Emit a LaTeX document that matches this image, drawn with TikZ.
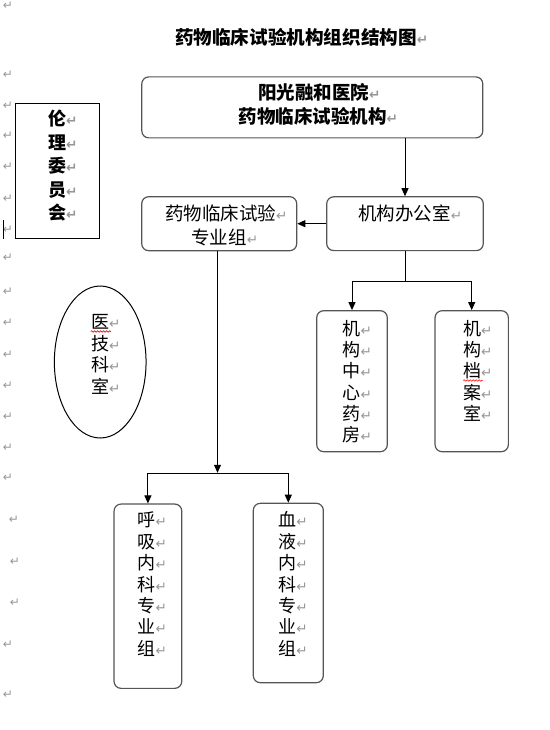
\documentclass[tikz,border=0pt]{standalone}
\usepackage{fontspec}
\newfontfamily\cjk{Noto Sans CJK SC}
\newfontfamily\dv{DejaVu Sans}
\usetikzlibrary{arrows.meta,shapes.geometric,decorations.pathmorphing,calc}
\definecolor{rtgray}{RGB}{150,150,150}
\definecolor{boxgray}{RGB}{85,85,85}
\newcommand\rt{\rlap{\dv\fontsize{13.5}{13.5}\selectfont\color{rtgray}↵}}
\newcommand\rtm{{\dv\fontsize{12}{12}\selectfont\color{rtgray}↵}}
\begin{document}
\begin{tikzpicture}[x=1pt,y=-1pt,
 rbox/.style={draw=boxgray,line width=1.2pt,rounded corners=7pt,inner sep=0,rectangle},
 arr/.style={line width=1pt,-{Triangle[length=8pt,width=7pt]}},
 ln/.style={line width=1pt},
 t/.style={inner sep=0,anchor=base,font=\cjk\fontsize{18.5}{18.5}\selectfont},
 tb/.style={inner sep=0,anchor=base,font=\cjk\bfseries\fontsize{18.5}{18.5}\selectfont},
 v/.style={inner sep=0,anchor=base,font=\cjk\fontsize{18}{18}\selectfont},
 vb/.style={inner sep=0,anchor=base,font=\cjk\bfseries\fontsize{18}{18}\selectfont},
 mk/.style={inner sep=0},
 wave/.style={red,line width=0.6pt,decorate,decoration={snake,amplitude=0.8pt,segment length=3pt}}]
\useasboundingbox (0,0) rectangle (549,730);

% title
\node[tb,font=\cjk\bfseries\fontsize{18.6}{18.6}\selectfont] (title) at (296,45) {药物临床试验机构组织结构图\rt};

% boxes
\node[rbox,minimum width=341pt,minimum height=61pt] (top) at (312.3,107.4) {};
\node[rbox,minimum width=156.6pt,minimum height=53.8pt] (office) at (405,223.7) {};
\node[rbox,minimum width=155pt,minimum height=54pt] (group) at (219.2,223.7) {};
\node[draw=black,line width=1pt,rectangle,minimum width=84.3pt,minimum height=135pt,inner sep=0] (lunli) at (57.2,170.8) {};
\node[draw=black,line width=1pt,ellipse,minimum width=91.7pt,minimum height=152pt,inner sep=0] (yiji) at (100.2,362) {};
\node[rbox,minimum width=70.6pt,minimum height=141pt] (zx) at (352,381.2) {};
\node[rbox,minimum width=73.3pt,minimum height=141pt] (da) at (471.7,381.2) {};
\node[rbox,minimum width=67.7pt,minimum height=184.3pt] (hx) at (147.9,596.2) {};
\node[rbox,minimum width=70pt,minimum height=179.4pt] (xy) at (288.3,593) {};

% box texts
\node[tb] (top1) at (313.5,99.7) {阳光融和医院\rt};
\node[tb] (top2) at (312.5,123.7) {药物临床试验机构\rt};
\node[t] (off1) at (404.5,220) {机构办公室\rt};
\node[t] (grp1) at (220.5,220) {药物临床试验\rt};
\node[t] (grp2) at (219,244) {专业组\rt};

\foreach \c [count=\i from 0] in {伦,理,委,员,会}
  \node[vb] (ll\i) at (57,{119+23.5*\i+6.8}) {\c\rt};
\foreach \c [count=\i from 0] in {医,技,科,室}
  \node[v] (yj\i) at (100,{322+21.5*\i+6.8}) {\c\rt};
\foreach \c [count=\i from 0] in {机,构,中,心,药,房}
  \node[v] (zxt\i) at (351.5,{328.3+21.3*\i+6.8}) {\c\rt};
\foreach \c [count=\i from 0] in {机,构,档,案,室}
  \node[v] (dat\i) at (472,{328.3+21.3*\i+6.8}) {\c\rt};
\foreach \c [count=\i from 0] in {呼,吸,内,科,专,业,组}
  \node[v] (hxt\i) at (146.7,{520+21.4*\i+6.8}) {\c\rt};
\foreach \c [count=\i from 0] in {血,液,内,科,专,业,组}
  \node[v] (xyt\i) at (287.3,{520+21.4*\i+6.8}) {\c\rt};

% spelling marks
\draw[wave] (90.7,331.5) -- (111,331.5);
\draw[wave] (463.3,380.5) -- (482.7,380.5);

% connectors
\draw[arr] (top.south -| office.north) -- (office.north);
\draw[arr] (office.west) -- (group.east);
\coordinate (bj) at (217.5,473.3);
\coordinate (oj) at (405.7,281);
\draw[arr] (group.south -| bj) -- ($(bj)+(0,-0.5)$);
\draw[arr] (bj) -| (hx.north);
\draw[arr] (bj) -| (xy.north);
\draw[ln] (office.south -| oj) -- (oj);
\draw[arr] (oj) -| (zx.north);
\draw[arr] (oj) -| (da.north);

% margin paragraph marks
\foreach \x/\y [count=\i] in {8/6,8/75,8/106,8/136,8/167,8/199,8/230,8/258,8/292,8/323,8/355,8/386,8/417,8/448,8/478,14/520,15/562,15/603,8/645,8/695}
  \node[mk] (m\i) at (\x,\y) {\rtm};
\draw[line width=0.8pt] (3.5,220) -- (3.5,239);
\end{tikzpicture}
\end{document}
